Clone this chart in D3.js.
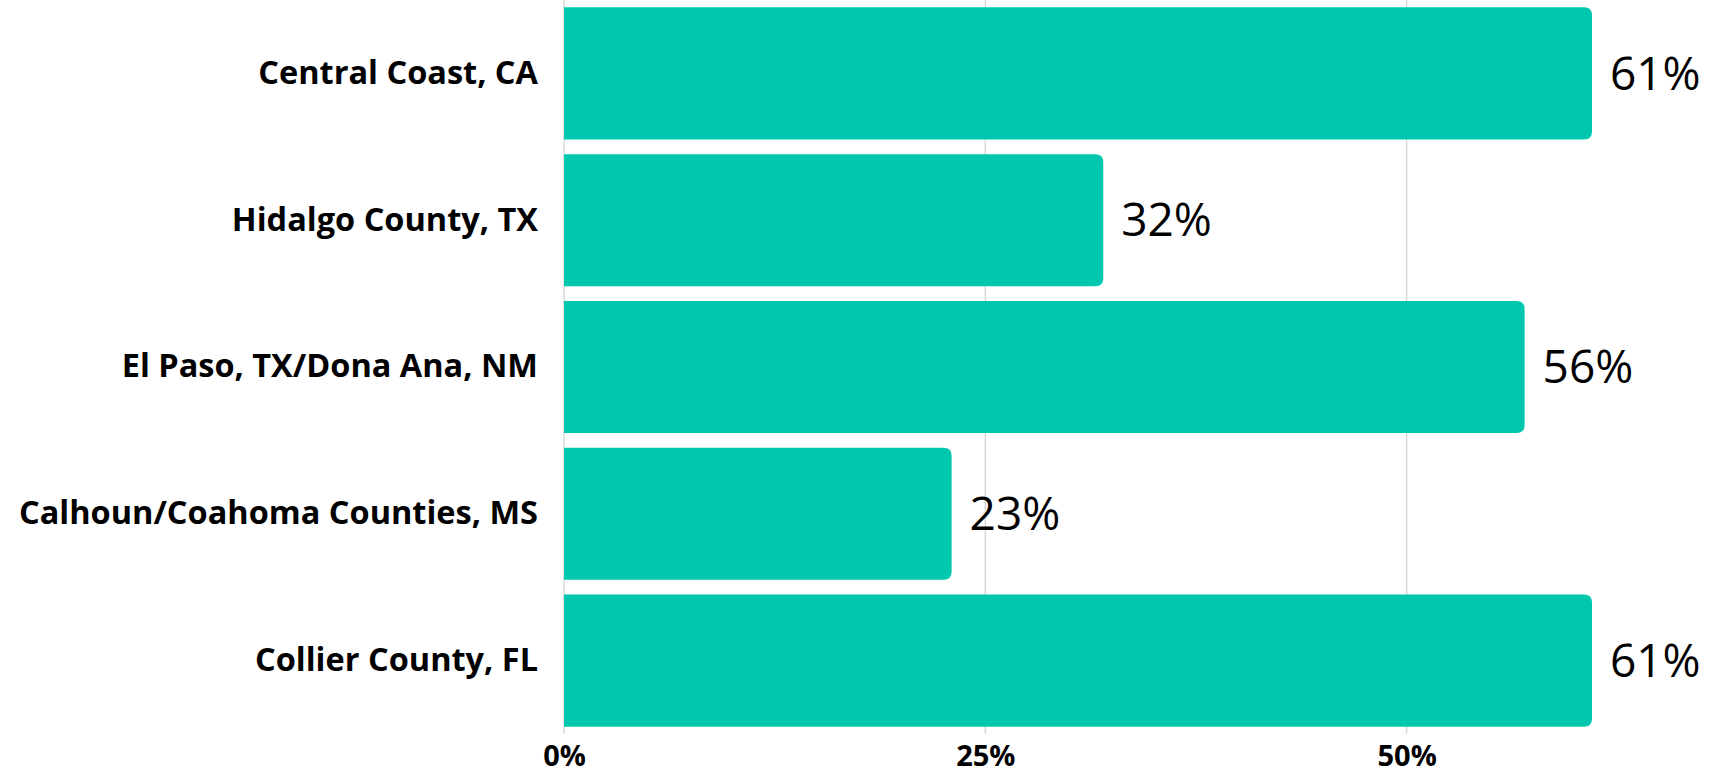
<!DOCTYPE html>
<html>
<head>
<meta charset="utf-8">
<script src="https://cdn.jsdelivr.net/npm/d3@7"></script>
<style>
  html, body { margin: 0; padding: 0; background: #fff; }
  svg { display: block; }
</style>
</head>
<body>
<svg id="chart"></svg>
<script>
const regions = [
  'Central Coast, CA',
  'Hidalgo County, TX',
  'El Paso, TX/Dona Ana, NM',
  'Calhoun/Coahoma Counties, MS',
  'Collier County, FL',
];
const shares = [61, 32, 57, 23, 61];
const shareLabels = ['61%', '32%', '56%', '23%', '61%'];
const xTicks = [0, 25, 50];

const W = 1711;
const H = 778;
const margin = { top: 0, right: 119, bottom: 44, left: 564 };
const width = W - margin.left - margin.right;
const height = H - margin.top - margin.bottom;

const data = regions.map((r, i) => ({ region: r, value: shares[i], label: shareLabels[i] }));

const xScale = d3.scaleLinear().domain([0, 61]).range([0, 1028]);
const yScale = d3
  .scaleBand()
  .domain(regions)
  .range([0, height])
  .paddingInner(0.1)
  .paddingOuter(0.05);

const svg = d3
  .select('#chart')
  .attr('width', W)
  .attr('height', H)
  .append('g')
  .attr('transform', `translate(${margin.left},${margin.top})`);

// gridlines
svg
  .selectAll('.grid')
  .data(xTicks)
  .enter()
  .append('line')
  .attr('class', 'grid')
  .attr('x1', (d) => xScale(d))
  .attr('x2', (d) => xScale(d))
  .attr('y1', 0)
  .attr('y2', height)
  .attr('stroke', '#d9d9d9')
  .attr('stroke-width', 1.5);

// bars with rounded right end only
const r = 8;
const barPath = (d) => {
  const x0 = 0;
  const x1 = xScale(d.value);
  const y0 = yScale(d.region);
  const y1 = y0 + yScale.bandwidth();
  return `M${x0},${y0}H${x1 - r}Q${x1},${y0} ${x1},${y0 + r}V${y1 - r}Q${x1},${y1} ${x1 - r},${y1}H${x0}Z`;
};

svg
  .selectAll('.bar')
  .data(data)
  .enter()
  .append('path')
  .attr('class', 'bar')
  .attr('d', barPath)
  .attr('fill', '#00c7ad');

// value labels
svg
  .selectAll('.val')
  .data(data)
  .enter()
  .append('text')
  .attr('class', 'val')
  .attr('x', (d) => xScale(d.value) + 18)
  .attr('y', (d) => yScale(d.region) + yScale.bandwidth() / 2)
  .attr('dy', '0.35em')
  .attr('font-family', '"Open Sans", sans-serif')
  .attr('font-size', 46)
  .attr('fill', '#000')
  .text((d) => d.label);

// category axis
const yAxis = svg.append('g').call(d3.axisLeft(yScale).tickSize(0).tickPadding(26));
yAxis.select('.domain').remove();
yAxis
  .selectAll('text')
  .attr('font-family', '"Open Sans", sans-serif')
  .attr('font-weight', 700)
  .attr('font-size', 32.5)
  .attr('fill', '#000');

// value axis
const xAxis = svg
  .append('g')
  .attr('transform', `translate(0,${height})`)
  .call(
    d3
      .axisBottom(xScale)
      .tickValues(xTicks)
      .tickSize(0)
      .tickPadding(11)
      .tickFormat((d) => d + '%')
  );
xAxis.select('.domain').remove();
xAxis
  .selectAll('text')
  .attr('font-family', '"Open Sans", sans-serif')
  .attr('font-weight', 700)
  .attr('font-size', 29)
  .attr('fill', '#000');
</script>
</body>
</html>
